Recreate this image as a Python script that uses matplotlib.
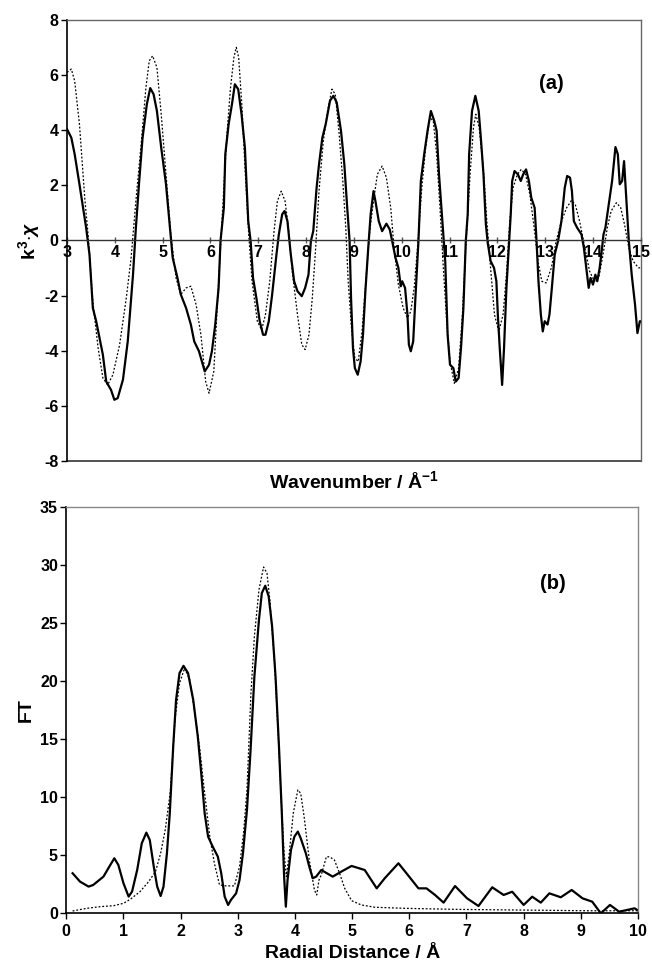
import matplotlib
matplotlib.use("Agg")
import matplotlib.pyplot as plt

plt.rcParams['font.family'] = ['Liberation Sans', 'DejaVu Sans']
plt.rcParams['font.weight'] = 'bold'
plt.rcParams['axes.unicode_minus'] = False
plt.rcParams['mathtext.fontset'] = 'custom'
plt.rcParams['mathtext.rm'] = 'Liberation Sans:bold'
plt.rcParams['mathtext.bf'] = 'Liberation Sans:bold'
plt.rcParams['mathtext.it'] = 'Liberation Sans:italic'

# (a) k^3 chi, experiment (solid) and fit (dotted)
k_exp = [3.00, 3.09, 3.16, 3.26, 3.40, 3.47, 3.54, 3.61, 3.75, 3.82, 3.92, 3.99, 4.06, 4.17,
         4.27, 4.38, 4.44, 4.51, 4.58, 4.67, 4.74, 4.81, 4.88, 4.97, 5.07, 5.14, 5.21, 5.31,
         5.38, 5.49, 5.59, 5.66, 5.76, 5.88, 5.97, 6.03, 6.10, 6.17, 6.21, 6.28, 6.31, 6.38,
         6.45, 6.51, 6.58, 6.65, 6.72, 6.79, 6.84, 6.89, 6.96, 7.03, 7.10, 7.15, 7.22, 7.29,
         7.38, 7.43, 7.50, 7.55, 7.61, 7.68, 7.75, 7.82, 7.91, 7.98, 8.05, 8.10, 8.15, 8.22,
         8.27, 8.34, 8.41, 8.50, 8.57, 8.64, 8.73, 8.80, 8.86, 8.91, 8.94, 8.98, 9.02, 9.08,
         9.14, 9.19, 9.24, 9.30, 9.35, 9.41, 9.45, 9.52, 9.59, 9.68, 9.75, 9.80, 9.87, 9.93,
         9.98, 10.01, 10.07, 10.12, 10.15, 10.19, 10.24, 10.29, 10.35, 10.40, 10.47, 10.54,
         10.61, 10.68, 10.73, 10.78, 10.85, 10.91, 10.96, 11.01, 11.08, 11.13, 11.19, 11.24,
         11.29, 11.34, 11.38, 11.41, 11.47, 11.54, 11.61, 11.66, 11.71, 11.76, 11.80, 11.86,
         11.93, 11.98, 12.01, 12.05, 12.10, 12.14, 12.19, 12.24, 12.28, 12.31, 12.36, 12.43,
         12.49, 12.54, 12.60, 12.66, 12.71, 12.78, 12.82, 12.86, 12.91, 12.95, 12.99, 13.05,
         13.09, 13.14, 13.20, 13.27, 13.34, 13.41, 13.46, 13.52, 13.56, 13.60, 13.67, 13.76,
         13.81, 13.86, 13.91, 13.95, 14.00, 14.05, 14.09, 14.14, 14.19, 14.22, 14.26, 14.30,
         14.35, 14.40, 14.44, 14.47, 14.52, 14.56, 14.61, 14.65, 14.70, 14.75, 14.81, 14.88,
         14.93, 14.98, 15.00]
chi_exp = [4.04, 3.73, 3.13, 2.04, 0.46, -0.51, -2.45, -2.93, -4.15, -5.12, -5.42, -5.78, -5.72,
           -5.05, -3.66, -1.24, 0.46, 2.16, 3.73, 4.95, 5.53, 5.31, 4.70, 3.37, 2.04, 0.70,
           -0.63, -1.36, -1.96, -2.45, -3.05, -3.66, -4.02, -4.75, -4.51, -4.02, -3.05, -1.72,
           -0.02, 1.19, 3.13, 4.22, 4.95, 5.67, 5.49, 4.58, 3.37, 0.70, -0.02, -1.36, -2.08,
           -2.93, -3.42, -3.42, -2.93, -1.96, -0.51, 0.22, 0.95, 1.07, 0.70, -0.51, -1.48,
           -1.84, -2.02, -1.72, -1.24, -0.02, 0.34, 1.92, 2.76, 3.73, 4.22, 5.07, 5.25, 5.01,
           3.98, 2.76, 1.19, -0.02, -2.08, -3.90, -4.63, -4.87, -4.39, -3.42, -1.84, -0.27,
           0.95, 1.79, 1.43, 0.70, 0.34, 0.61, 0.40, -0.02, -0.63, -0.99, -1.66, -1.48, -1.72,
           -2.69, -3.78, -4.02, -3.66, -1.96, -0.02, 2.16, 3.13, 3.98, 4.70, 4.34, 3.98, 2.40,
           0.70, -0.75, -3.42, -4.51, -4.63, -5.12, -4.99, -3.90, -2.45, -0.02, 0.95, 3.13,
           4.70, 5.25, 4.70, 3.61, 2.40, 0.58, -0.10, -0.75, -0.99, -1.48, -2.69, -3.90, -5.24,
           -3.90, -1.72, -0.27, 0.95, 2.16, 2.52, 2.40, 2.16, 2.40, 2.58, 2.16, 1.55, 1.19,
           -0.02, -1.48, -2.69, -3.30, -2.93, -3.05, -2.69, -1.72, -0.51, -0.02, 0.70, 1.92,
           2.34, 2.28, 1.79, 0.70, 0.46, 0.22, -0.27, -0.99, -1.72, -1.36, -1.60, -1.24, -1.48,
           -0.99, -0.27, 0.22, 0.46, 0.95, 1.55, 2.16, 2.88, 3.39, 3.13, 2.04, 2.16, 2.88, 1.43,
           -0.02, -1.24, -2.33, -3.36, -2.93, -2.93]

k_fit = [3.00, 3.09, 3.16, 3.26, 3.37, 3.44, 3.54, 3.65, 3.75, 3.85, 3.96, 4.10, 4.24, 4.34,
         4.44, 4.55, 4.65, 4.72, 4.79, 4.88, 4.97, 5.07, 5.17, 5.28, 5.38, 5.49, 5.59, 5.70,
         5.80, 5.90, 5.97, 6.07, 6.14, 6.21, 6.28, 6.35, 6.42, 6.49, 6.54, 6.59, 6.66, 6.73,
         6.80, 6.87, 6.98, 7.07, 7.15, 7.24, 7.33, 7.40, 7.48, 7.56, 7.63, 7.71, 7.82, 7.91,
         7.98, 8.06, 8.13, 8.20, 8.27, 8.36, 8.45, 8.54, 8.61, 8.69, 8.77, 8.83, 8.88, 8.95,
         9.02, 9.09, 9.17, 9.24, 9.33, 9.41, 9.49, 9.59, 9.68, 9.77, 9.84, 9.93, 10.03, 10.12,
         10.19, 10.26, 10.33, 10.42, 10.50, 10.59, 10.66, 10.73, 10.80, 10.87, 10.94, 11.01,
         11.10, 11.19, 11.27, 11.34, 11.43, 11.50, 11.55, 11.62, 11.69, 11.72, 11.78, 11.87,
         11.94, 12.03, 12.12, 12.19, 12.26, 12.33, 12.42, 12.50, 12.59, 12.68, 12.77, 12.85,
         12.93, 13.02, 13.13, 13.23, 13.34, 13.45, 13.55, 13.63, 13.72, 13.83, 13.93, 14.03,
         14.12, 14.21, 14.30, 14.38, 14.49, 14.58, 14.66, 14.75, 14.84, 14.95, 15.00]
chi_fit = [6.10, 6.22, 5.79, 4.22, 1.55, 0.22, -2.21, -3.90, -4.99, -5.24, -4.87, -3.78, -2.08,
           -0.63, 1.43, 3.49, 5.55, 6.52, 6.70, 6.28, 4.58, 2.40, 0.22, -1.36, -1.96, -1.72,
           -1.66, -2.33, -3.42, -5.12, -5.54, -4.75, -2.45, -0.27, 1.92, 3.98, 5.55, 6.64,
           7.01, 6.64, 4.82, 2.40, 0.22, -1.48, -2.93, -3.24, -2.69, -1.48, 0.34, 1.43, 1.79,
           1.43, 0.46, -1.12, -2.69, -3.78, -3.96, -3.42, -2.08, -0.27, 1.79, 3.61, 4.70, 5.49,
           5.31, 3.90, 2.10, 0.46, -1.48, -3.18, -4.27, -4.39, -3.30, -1.72, 0.34, 1.43, 2.40,
           2.70, 2.28, 1.19, -0.27, -1.60, -2.45, -2.81, -2.57, -1.72, -0.27, 1.92, 3.37, 4.46,
           4.34, 3.13, 1.19, -0.99, -2.93, -4.39, -5.18, -4.63, -2.69, -0.27, 2.40, 4.10, 4.58,
           4.10, 2.88, 2.30, 0.70, -1.24, -2.69, -3.30, -2.69, -1.24, 0.70, 1.92, 2.40, 2.58,
           2.40, 1.67, 0.46, -0.75, -1.48, -1.54, -0.99, -0.02, 0.70, 1.19, 1.45, 1.31, 0.70,
           -0.27, -1.12, -1.48, -1.36, -0.51, 0.46, 1.07, 1.37, 1.19, 0.58, -0.27, -0.75, -0.99,
           -0.99]

# (b) Fourier transform magnitude
r_exp = [0.11, 0.24, 0.39, 0.47, 0.65, 0.77, 0.84, 0.91, 1.00, 1.09, 1.15, 1.24, 1.32, 1.40,
         1.46, 1.53, 1.59, 1.65, 1.70, 1.76, 1.81, 1.87, 1.92, 1.98, 2.05, 2.13, 2.22, 2.30,
         2.36, 2.42, 2.48, 2.56, 2.65, 2.71, 2.77, 2.83, 2.88, 2.97, 3.03, 3.09, 3.16, 3.22,
         3.29, 3.37, 3.42, 3.48, 3.54, 3.60, 3.66, 3.72, 3.77, 3.81, 3.84, 3.87, 3.93, 3.99,
         4.05, 4.10, 4.19, 4.25, 4.31, 4.37, 4.46, 4.66, 4.81, 4.99, 5.22, 5.43, 5.57, 5.81,
         5.95, 6.16, 6.30, 6.45, 6.60, 6.80, 7.01, 7.21, 7.45, 7.65, 7.80, 8.00, 8.15, 8.30,
         8.45, 8.65, 8.84, 9.03, 9.20, 9.35, 9.51, 9.67, 9.94, 10.00]
ft_exp = [3.45, 2.73, 2.30, 2.44, 3.16, 4.17, 4.74, 4.17, 2.59, 1.44, 1.87, 3.74, 6.03, 6.95,
          6.32, 4.02, 2.30, 1.49, 2.30, 5.17, 8.62, 14.37, 18.39, 20.69, 21.32, 20.69, 18.39,
          15.23, 12.07, 8.62, 6.61, 5.75, 4.89, 3.45, 1.44, 0.72, 1.15, 1.72, 2.87, 5.17,
          8.91, 13.79, 20.40, 25.29, 27.59, 28.22, 27.30, 24.71, 20.40, 14.37, 8.62, 3.16,
          0.57, 2.87, 5.46, 6.61, 7.04, 6.47, 5.17, 4.02, 3.02, 3.16, 3.73, 3.16, 3.59, 4.08,
          3.73, 2.15, 3.02, 4.31, 3.45, 2.15, 2.15, 1.58, 0.92, 2.35, 1.29, 0.63, 2.24, 1.58,
          1.86, 0.72, 1.43, 0.92, 1.72, 1.38, 2.01, 1.29, 1.00, 0.00, 0.72, 0.14, 0.43, 0.25]

r_fit = [0.11, 0.36, 0.59, 0.83, 1.00, 1.12, 1.29, 1.44, 1.56, 1.65, 1.73, 1.82, 1.90, 1.98,
         2.07, 2.16, 2.24, 2.33, 2.42, 2.51, 2.59, 2.68, 2.80, 2.94, 3.03, 3.10, 3.16, 3.23,
         3.29, 3.37, 3.45, 3.51, 3.56, 3.64, 3.70, 3.76, 3.81, 3.85, 3.90, 3.97, 4.05, 4.10,
         4.16, 4.25, 4.34, 4.38, 4.42, 4.46, 4.55, 4.61, 4.69, 4.78, 4.87, 4.99, 5.16, 5.40,
         5.92, 6.80, 7.97, 9.15, 10.00]
ft_fit = [0.20, 0.43, 0.57, 0.66, 0.86, 1.21, 1.87, 2.73, 3.59, 5.17, 7.18, 10.50, 16.67,
          19.83, 21.12, 20.11, 17.53, 14.37, 10.34, 6.61, 4.31, 2.44, 2.36, 2.36, 4.02, 6.90,
          10.63, 18.97, 23.85, 27.87, 29.83, 29.31, 27.01, 21.84, 16.09, 9.77, 5.17, 3.16,
          5.17, 8.62, 10.63, 10.34, 8.33, 4.60, 2.01, 1.58, 2.87, 3.30, 4.88, 4.86, 4.59,
          3.45, 2.15, 1.09, 0.72, 0.52, 0.43, 0.34, 0.28, 0.22, 0.22]

fig = plt.figure(figsize=(6.52, 9.68), dpi=100)
ax1 = fig.add_axes([0.1028, 0.5238, 0.880, 0.4555])
ax2 = fig.add_axes([0.1017, 0.0565, 0.8768, 0.4197])

# top panel
ax1.plot(k_fit, chi_fit, color='black', lw=0.9, ls=(0, (1.5, 1.5)))
ax1.plot(k_exp, chi_exp, color='black', lw=1.6)
ax1.set_xlim(3, 15)
ax1.set_ylim(-8, 8)
ax1.set_yticks(range(-8, 9, 2))
ax1.set_xticks(range(3, 16))
ax1.spines['bottom'].set_position(('data', 0))
ax1.spines['bottom'].set_color('#333333')
ax1.spines['bottom'].set_linewidth(1.0)
ax1.axhline(-8, color='#333333', lw=1.2, clip_on=False)
for s in ['top', 'right']:
    ax1.spines[s].set_color('#666666')
    ax1.spines[s].set_linewidth(1.0)
ax1.spines['left'].set_linewidth(1.2)
ax1.tick_params(axis='x', direction='inout', length=5, width=1, pad=1, labelsize=11.5, color='#555555')
ax1.tick_params(axis='y', direction='out', length=4, width=1, pad=2, labelsize=11.5)
ax1.set_ylabel(r'k$^{3}$$\cdot$$\mathit{\chi}$', fontsize=14, fontweight='bold', labelpad=2)
ax1.text(0.5, -0.022, r'Wavenumber / Å$^{-1}$', transform=ax1.transAxes, ha='center', va='top',
         fontsize=14, fontweight='bold')
ax1.text(0.845, 0.855, '(a)', transform=ax1.transAxes, ha='center', va='center',
         fontsize=14.5, fontweight='bold')

# bottom panel
ax2.plot(r_fit, ft_fit, color='black', lw=0.9, ls=(0, (1.5, 1.5)))
ax2.plot(r_exp, ft_exp, color='black', lw=1.6)
ax2.set_xlim(0, 10)
ax2.set_ylim(0, 35)
ax2.set_yticks(range(0, 36, 5))
ax2.set_xticks(range(0, 11))
for s in ['top', 'right']:
    ax2.spines[s].set_color('#888888')
    ax2.spines[s].set_linewidth(1.0)
ax2.spines['left'].set_linewidth(1.2)
ax2.spines['bottom'].set_linewidth(1.2)
ax2.tick_params(axis='x', direction='out', length=4, width=1, pad=4, labelsize=11.5)
ax2.tick_params(axis='y', direction='out', length=4, width=1, pad=2, labelsize=11.5)
ax2.set_ylabel('FT', fontsize=14, fontweight='bold', labelpad=4)
ax2.set_xlabel('Radial Distance / Å', fontsize=14, fontweight='bold', labelpad=4)
ax2.text(0.851, 0.813, '(b)', transform=ax2.transAxes, ha='center', va='center',
         fontsize=14.5, fontweight='bold')

fig.savefig('out.png', dpi=100)
